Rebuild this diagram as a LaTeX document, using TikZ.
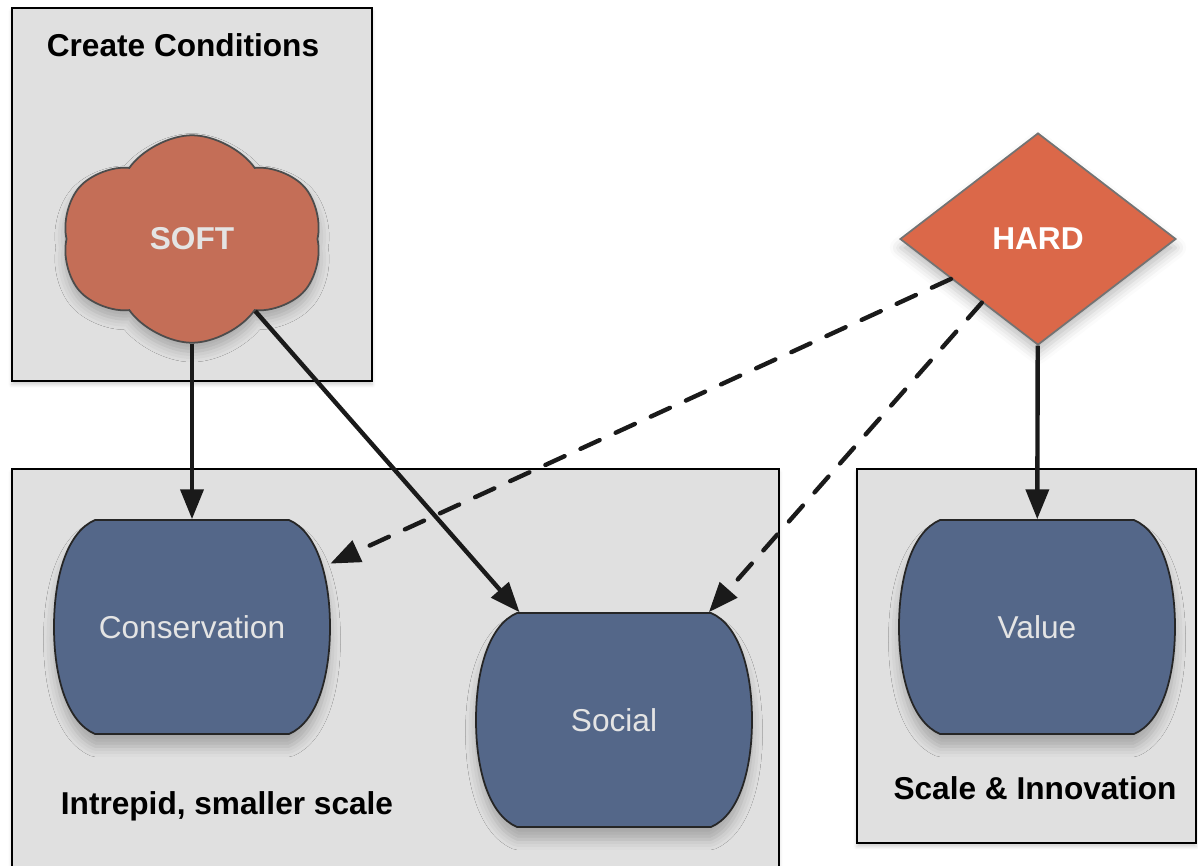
\documentclass[tikz,border=0pt]{standalone}
\usepackage{fontspec}
\setmainfont{Liberation Sans}
\usetikzlibrary{arrows.meta,shapes.geometric,shapes.symbols,shadows.blur}

\definecolor{boxgray}{HTML}{E0E0E0}
\definecolor{softred}{HTML}{C46E57}
\definecolor{hardred}{HTML}{DB6849}
\definecolor{barrelblue}{HTML}{546789}
\definecolor{paletext}{HTML}{E4E4E4}
\definecolor{arrowblack}{HTML}{1A1A1A}

\tikzset{
    groupbox/.style={draw=black, line width=1pt, fill=boxgray,
        blur shadow={shadow xshift=0pt, shadow yshift=-2pt, shadow opacity=20}},
    boxlabel/.style={font=\fontsize{18}{22}\selectfont\bfseries, text=black},
    barrel/.style={draw=black!85, line width=1pt, fill=barrelblue,
        blur shadow={shadow xshift=0pt, shadow yshift=-7pt, shadow opacity=25, shadow blur radius=6pt}},
    barreltext/.style={rectangle, minimum width=5.52cm, minimum height=4.3cm, inner sep=0pt,
        text=paletext, font=\fontsize{18}{22}\selectfont},
    solidarrow/.style={line width=2.5pt, draw=arrowblack},
    dashedarrow/.style={line width=2.5pt, draw=arrowblack, dash pattern=on 12pt off 10pt, line cap=round}
}

\begin{document}
\begin{tikzpicture}[x=0.02cm, y=-0.02cm, >={Triangle[length=17pt, width=13pt]}]
    \useasboundingbox (0,0) rectangle (1198,866);

    % group boxes
    \draw[groupbox] (12,8) rectangle (372,381);
    \draw[groupbox] (12,469) rectangle (779,900);
    \draw[groupbox] (857,469) rectangle (1196,843);

    \node[boxlabel] (createlbl) at (183,45) {Create Conditions};
    \node[boxlabel] (intrepidlbl) at (227,806) {Intrepid, smaller scale};
    \node[boxlabel] (scalelbl) at (1035,788) {Scale \& Innovation};

    % soft and hard
    \node[cloud, cloud puffs=6, cloud puff arc=110, cloud ignores aspect,
        minimum width=5.2cm, minimum height=4.15cm, inner sep=0pt,
        draw=black!70, line width=1pt, fill=softred,
        blur shadow={shadow xshift=0pt, shadow yshift=-5pt, shadow opacity=25, shadow blur radius=6pt},
        text=paletext, font=\fontsize{18}{22}\selectfont\bfseries] (soft) at (192,239) {SOFT};
    \node[diamond, aspect=1.3, minimum width=5.52cm, minimum height=4.24cm, inner sep=0pt,
        draw=black!55, line width=1pt, fill=hardred,
        blur shadow={shadow xshift=0pt, shadow yshift=-5pt, shadow opacity=25, shadow blur radius=6pt},
        text=white, font=\fontsize{18}{22}\selectfont\bfseries] (hard) at (1038,239) {HARD};

    % the three blue shapes
    \foreach \n/\cx/\cy/\txt in {cons/192/627/Conservation, social/614/720/Social, value/1037/627/Value} {
        \draw[barrel, shift={(\cx,\cy)}] (-97,-107) -- (97,-107)
            .. controls (125,-95) and (138,-50) .. (138,0)
            .. controls (138,50) and (125,95) .. (97,107) -- (-97,107)
            .. controls (-125,95) and (-138,50) .. (-138,0)
            .. controls (-138,-50) and (-125,-95) .. (-97,-107) -- cycle;
        \node[barreltext] (\n) at (\cx,\cy) {\txt};
    }

    \draw[->, solidarrow] (soft) -- (cons);
    \draw[->, solidarrow] (soft) -- (social);
    \draw[->, solidarrow] (hard) -- (value);
    \draw[->, dashedarrow] (hard) -- (cons);
    \draw[->, dashedarrow] (hard) -- (social);
\end{tikzpicture}
\end{document}
